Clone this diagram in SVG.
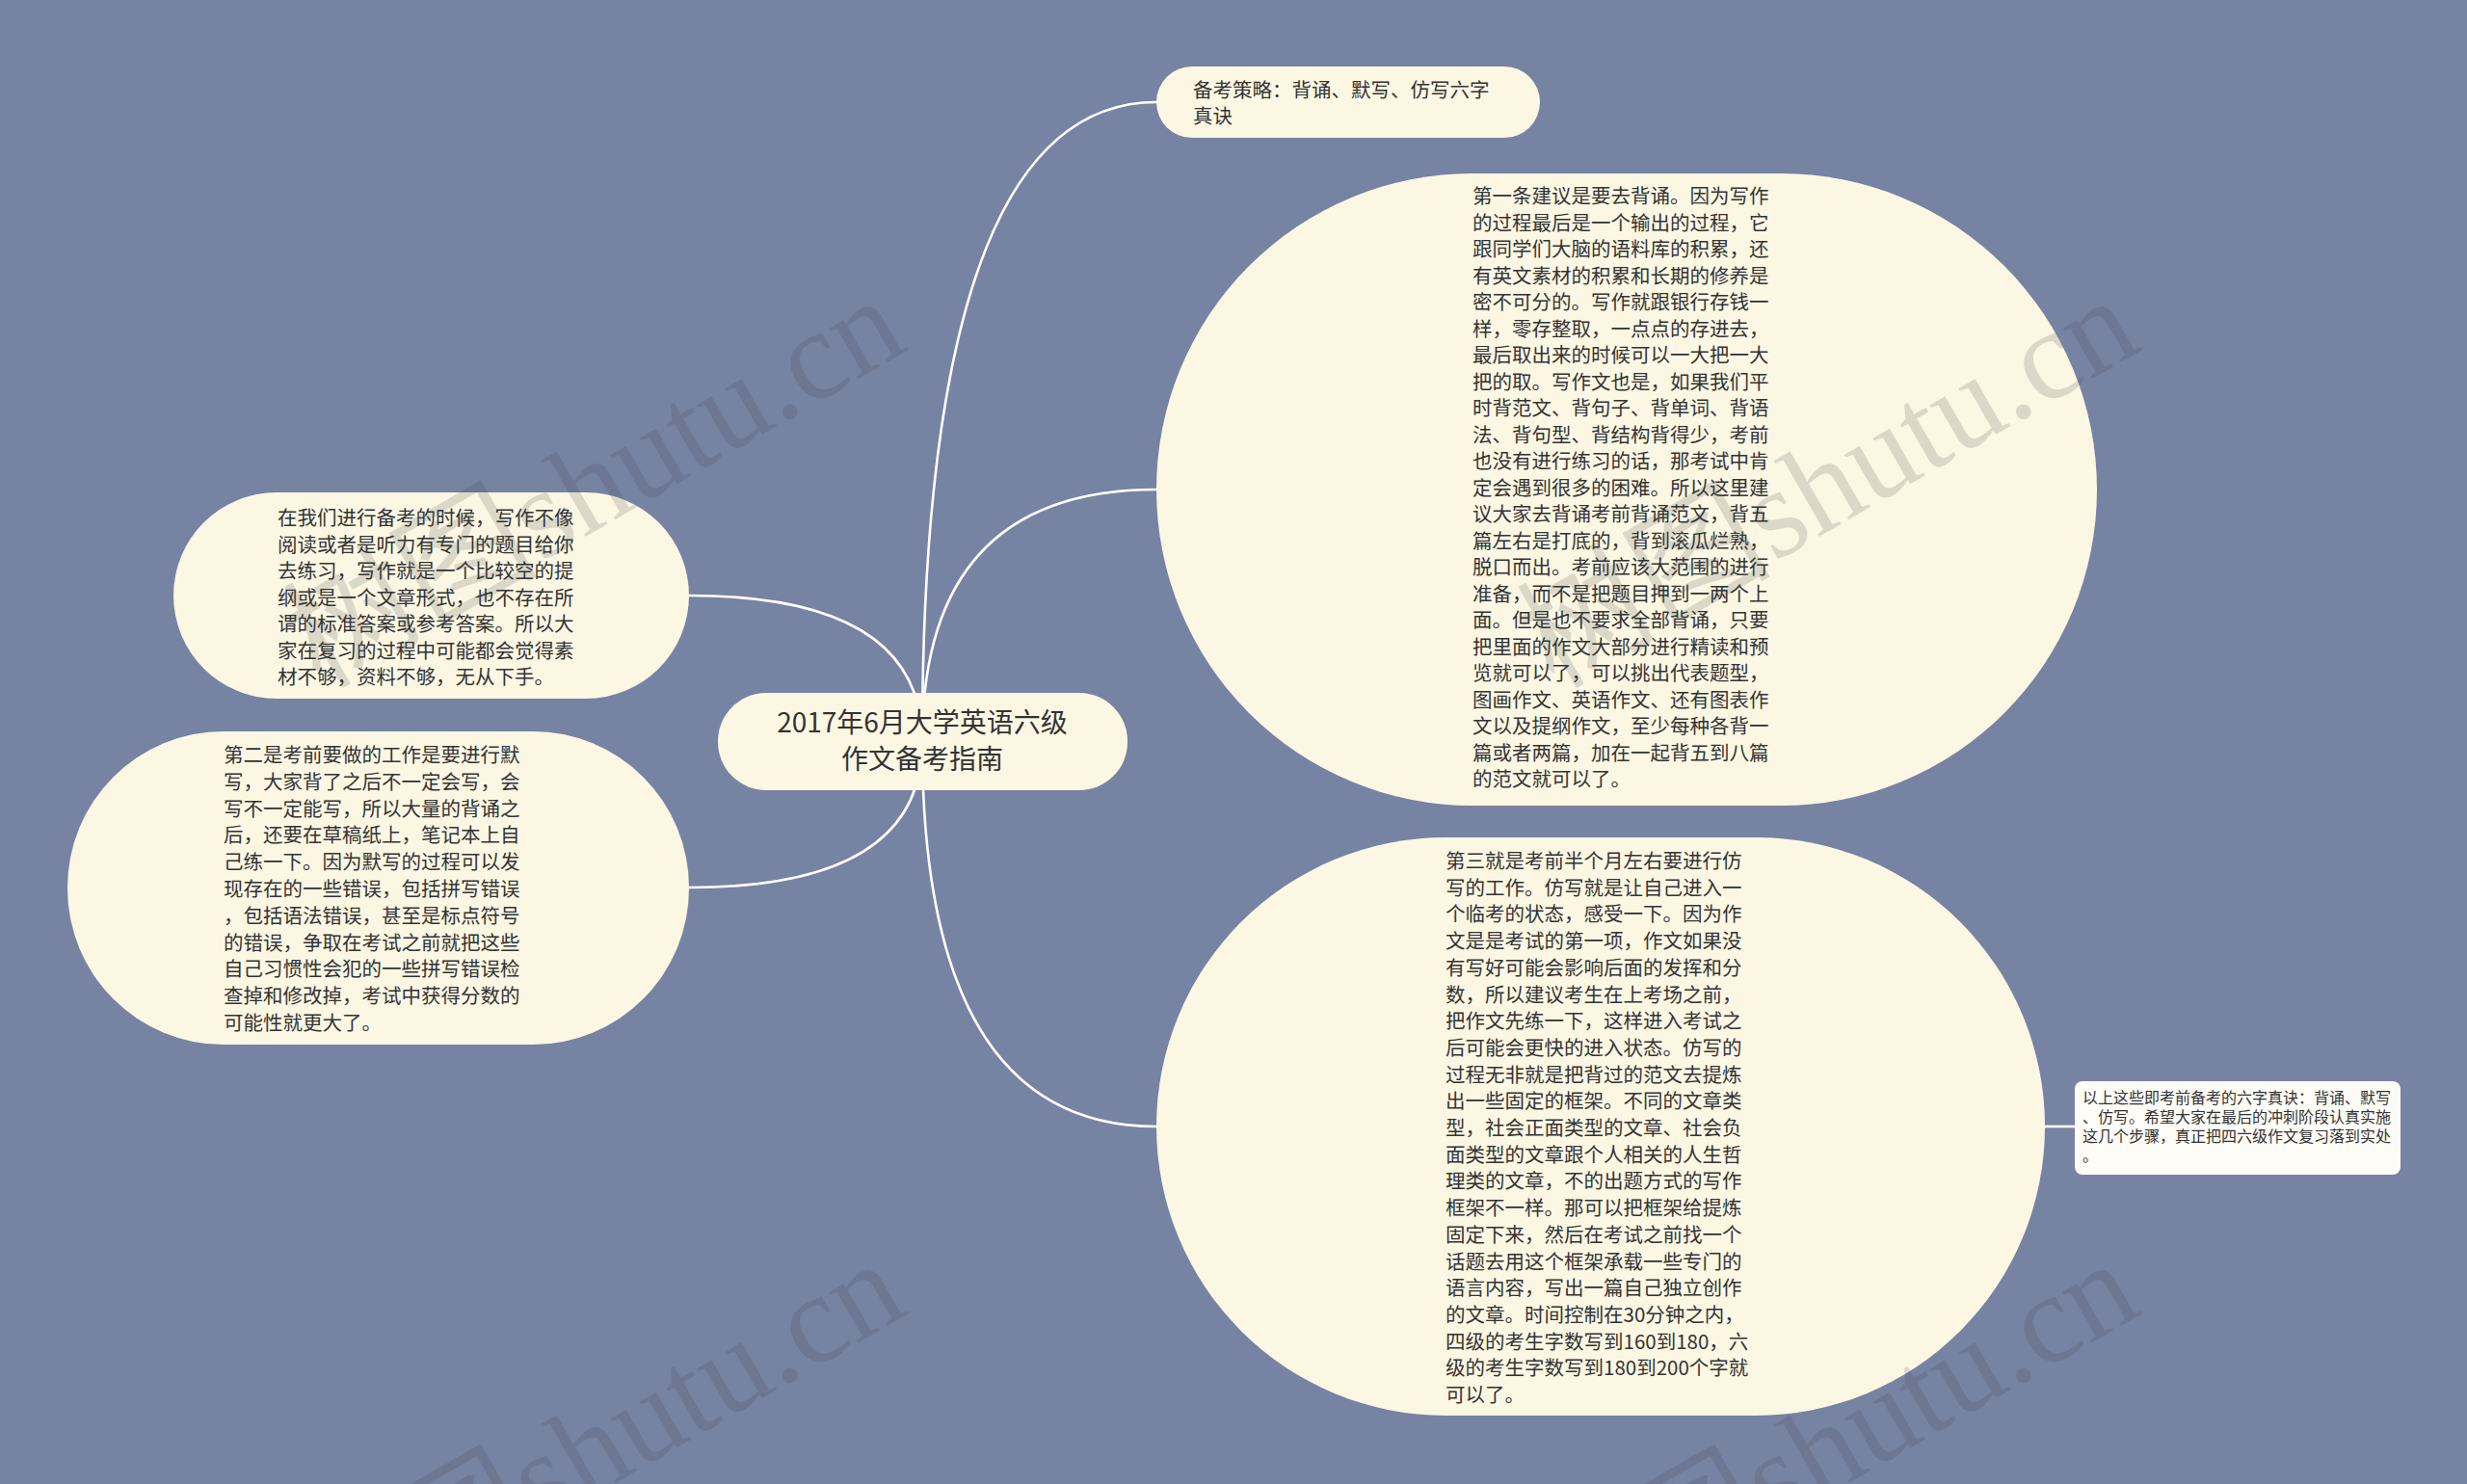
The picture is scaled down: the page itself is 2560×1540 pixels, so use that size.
<svg xmlns="http://www.w3.org/2000/svg" width="2560" height="1540" viewBox="0 0 2560 1540">
<defs>
<style>
.bg{fill:#7783a3}
.node{fill:#fcf7e3}
.note{fill:#fdfcf6}
.edge{fill:none;stroke:#ffffff;stroke-width:2.6}
.t{font-family:"Noto Sans CJK SC","Microsoft YaHei",sans-serif;fill:#333333}
.body{font-size:20.5px}
.small{font-size:16px}
.center{font-size:28px;text-anchor:middle}
.wm{font-family:"Liberation Serif","Noto Sans CJK SC",serif;font-size:132px;fill:#3a3f4a;fill-opacity:0.17;text-anchor:end}
</style>
</defs>
<rect class="bg" x="0" y="0" width="2560" height="1540"/>

<g id="connectors">
<path class="edge" d="M957 770 Q957 106 1200 106"/>
<path class="edge" d="M957 770 Q957 508 1200 508"/>
<path class="edge" d="M957 770 Q957 1169 1200 1169"/>
<path class="edge" d="M957 770 Q957 618 715 618"/>
<path class="edge" d="M957 770 Q957 921 715 921"/>
<path class="edge" d="M2122 1169 L2153 1169"/>
</g>

<g id="node-center">
<rect class="node" x="745" y="719" width="425" height="101" rx="50" ry="50"/>
<text class="t center"><tspan x="957" y="760">2017年6月大学英语六级</tspan><tspan x="957" y="798">作文备考指南</tspan></text>
</g>

<g id="node-strategy">
<rect class="node" x="1200" y="69" width="398" height="74" rx="37" ry="37"/>
<text class="t body"><tspan x="1238" y="101">备考策略：背诵、默写、仿写六字</tspan><tspan x="1238" y="128">真诀</tspan></text>
</g>

<g id="node-first">
<rect class="node" x="1200" y="180" width="976" height="656" rx="328" ry="328"/>
<text class="t body">
<tspan x="1528" y="211">第一条建议是要去背诵。因为写作</tspan>
<tspan x="1528" y="238.5">的过程最后是一个输出的过程，它</tspan>
<tspan x="1528" y="266">跟同学们大脑的语料库的积累，还</tspan>
<tspan x="1528" y="293.5">有英文素材的积累和长期的修养是</tspan>
<tspan x="1528" y="321">密不可分的。写作就跟银行存钱一</tspan>
<tspan x="1528" y="348.5">样，零存整取，一点点的存进去，</tspan>
<tspan x="1528" y="376">最后取出来的时候可以一大把一大</tspan>
<tspan x="1528" y="403.5">把的取。写作文也是，如果我们平</tspan>
<tspan x="1528" y="431">时背范文、背句子、背单词、背语</tspan>
<tspan x="1528" y="458.5">法、背句型、背结构背得少，考前</tspan>
<tspan x="1528" y="486">也没有进行练习的话，那考试中肯</tspan>
<tspan x="1528" y="513.5">定会遇到很多的困难。所以这里建</tspan>
<tspan x="1528" y="541">议大家去背诵考前背诵范文，背五</tspan>
<tspan x="1528" y="568.5">篇左右是打底的，背到滚瓜烂熟，</tspan>
<tspan x="1528" y="596">脱口而出。考前应该大范围的进行</tspan>
<tspan x="1528" y="623.5">准备，而不是把题目押到一两个上</tspan>
<tspan x="1528" y="651">面。但是也不要求全部背诵，只要</tspan>
<tspan x="1528" y="678.5">把里面的作文大部分进行精读和预</tspan>
<tspan x="1528" y="706">览就可以了，可以挑出代表题型，</tspan>
<tspan x="1528" y="733.5">图画作文、英语作文、还有图表作</tspan>
<tspan x="1528" y="761">文以及提纲作文，至少每种各背一</tspan>
<tspan x="1528" y="788.5">篇或者两篇，加在一起背五到八篇</tspan>
<tspan x="1528" y="816">的范文就可以了。</tspan>
</text>
</g>

<g id="node-third">
<rect class="node" x="1200" y="869" width="922" height="600" rx="300" ry="300"/>
<text class="t body">
<tspan x="1500" y="901">第三就是考前半个月左右要进行仿</tspan>
<tspan x="1500" y="928.7">写的工作。仿写就是让自己进入一</tspan>
<tspan x="1500" y="956.4">个临考的状态，感受一下。因为作</tspan>
<tspan x="1500" y="984.1">文是是考试的第一项，作文如果没</tspan>
<tspan x="1500" y="1011.8">有写好可能会影响后面的发挥和分</tspan>
<tspan x="1500" y="1039.5">数，所以建议考生在上考场之前，</tspan>
<tspan x="1500" y="1067.2">把作文先练一下，这样进入考试之</tspan>
<tspan x="1500" y="1094.9">后可能会更快的进入状态。仿写的</tspan>
<tspan x="1500" y="1122.6">过程无非就是把背过的范文去提炼</tspan>
<tspan x="1500" y="1150.3">出一些固定的框架。不同的文章类</tspan>
<tspan x="1500" y="1178">型，社会正面类型的文章、社会负</tspan>
<tspan x="1500" y="1205.7">面类型的文章跟个人相关的人生哲</tspan>
<tspan x="1500" y="1233.4">理类的文章，不的出题方式的写作</tspan>
<tspan x="1500" y="1261.1">框架不一样。那可以把框架给提炼</tspan>
<tspan x="1500" y="1288.8">固定下来，然后在考试之前找一个</tspan>
<tspan x="1500" y="1316.5">话题去用这个框架承载一些专门的</tspan>
<tspan x="1500" y="1344.2">语言内容，写出一篇自己独立创作</tspan>
<tspan x="1500" y="1371.9">的文章。时间控制在30分钟之内，</tspan>
<tspan x="1500" y="1399.6">四级的考生字数写到160到180，六</tspan>
<tspan x="1500" y="1427.3">级的考生字数写到180到200个字就</tspan>
<tspan x="1500" y="1455">可以了。</tspan>
</text>
</g>

<g id="node-summary">
<rect class="note" x="2153" y="1122" width="338" height="97" rx="8" ry="8"/>
<text class="t small">
<tspan x="2161" y="1145">以上这些即考前备考的六字真诀：背诵、默写</tspan>
<tspan x="2161" y="1165">、仿写。希望大家在最后的冲刺阶段认真实施</tspan>
<tspan x="2161" y="1185">这几个步骤，真正把四六级作文复习落到实处</tspan>
<tspan x="2161" y="1205">。</tspan>
</text>
</g>

<g id="node-prepare">
<rect class="node" x="180" y="511" width="535" height="214" rx="107" ry="107"/>
<text class="t body">
<tspan x="288" y="545">在我们进行备考的时候，写作不像</tspan>
<tspan x="288" y="572.5">阅读或者是听力有专门的题目给你</tspan>
<tspan x="288" y="600">去练习，写作就是一个比较空的提</tspan>
<tspan x="288" y="627.5">纲或是一个文章形式，也不存在所</tspan>
<tspan x="288" y="655">谓的标准答案或参考答案。所以大</tspan>
<tspan x="288" y="682.5">家在复习的过程中可能都会觉得素</tspan>
<tspan x="288" y="710">材不够，资料不够，无从下手。</tspan>
</text>
</g>

<g id="node-second">
<rect class="node" x="70" y="759" width="645" height="325" rx="162" ry="162"/>
<text class="t body">
<tspan x="232" y="791">第二是考前要做的工作是要进行默</tspan>
<tspan x="232" y="818.8">写，大家背了之后不一定会写，会</tspan>
<tspan x="232" y="846.6">写不一定能写，所以大量的背诵之</tspan>
<tspan x="232" y="874.4">后，还要在草稿纸上，笔记本上自</tspan>
<tspan x="232" y="902.2">己练一下。因为默写的过程可以发</tspan>
<tspan x="232" y="930">现存在的一些错误，包括拼写错误</tspan>
<tspan x="232" y="957.8">，包括语法错误，甚至是标点符号</tspan>
<tspan x="232" y="985.6">的错误，争取在考试之前就把这些</tspan>
<tspan x="232" y="1013.4">自己习惯性会犯的一些拼写错误检</tspan>
<tspan x="232" y="1041.2">查掉和修改掉，考试中获得分数的</tspan>
<tspan x="232" y="1069">可能性就更大了。</tspan>
</text>
</g>

<g id="watermarks">
<text class="wm" transform="translate(945 362) rotate(-30)">树图shutu.cn</text>
<text class="wm" transform="translate(2225 362) rotate(-30)">树图shutu.cn</text>
<text class="wm" transform="translate(945 1362) rotate(-30)">树图shutu.cn</text>
<text class="wm" transform="translate(2225 1362) rotate(-30)">树图shutu.cn</text>
</g>
</svg>
